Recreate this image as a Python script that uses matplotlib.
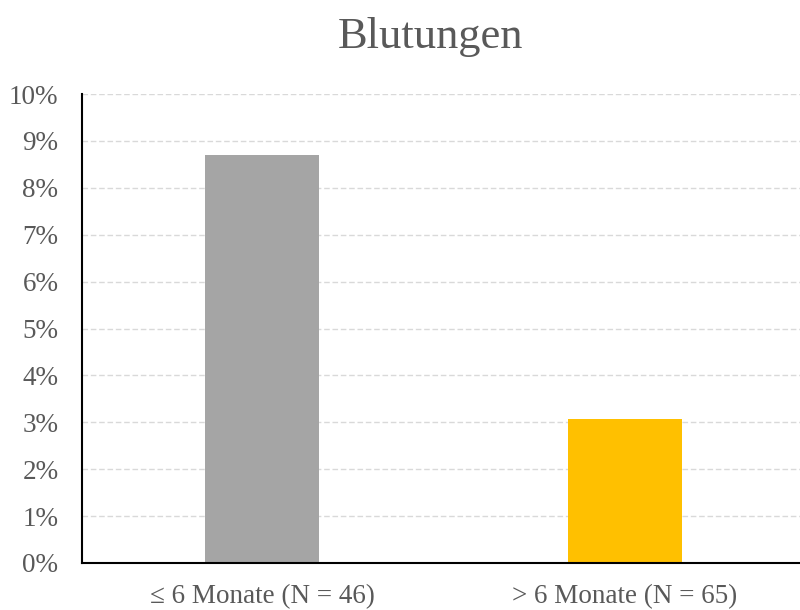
import matplotlib
matplotlib.use("Agg")
import matplotlib.pyplot as plt
from matplotlib.ticker import PercentFormatter

categories = ["≤ 6 Monate (N = 46)", "> 6 Monate (N = 65)"]
values = [4 / 46, 2 / 65]
colors = ["#A5A5A5", "#FFC000"]
title = "Blutungen"

plt.rcParams["font.family"] = ["Liberation Serif", "DejaVu Serif"]
text_color = "#595959"

fig = plt.figure(figsize=(8.0, 6.1), dpi=100)
ax = fig.add_axes([82 / 800, 47 / 610, (800 - 82) / 800, 469 / 610])

x = list(range(len(categories)))
ax.bar(x, values, width=0.314, color=colors, zorder=3)

ax.set_xlim(-0.496, 1.482)
ax.set_ylim(0, 0.10)
ax.set_yticks([i / 100 for i in range(11)])
ax.yaxis.set_major_formatter(PercentFormatter(1.0, decimals=0))
ax.set_xticks(x)
ax.set_xticklabels(categories)

ax.grid(axis="y", color="#D9D9D9", linestyle=(0, (4, 2)), linewidth=1.0, zorder=0)
ax.tick_params(axis="both", length=0, labelsize=19.5, colors=text_color)
ax.tick_params(axis="x", pad=15.5)
ax.tick_params(axis="y", pad=17)

for side in ["top", "right"]:
    ax.spines[side].set_visible(False)
for side in ["left", "bottom"]:
    ax.spines[side].set_color("black")
    ax.spines[side].set_linewidth(1.5)
    ax.spines[side].set_zorder(4)

fig.text(430 / 800, 1 - 48 / 610, title, ha="center", va="baseline",
         fontsize=32, color=text_color)

fig.savefig("out.png", dpi=100)
